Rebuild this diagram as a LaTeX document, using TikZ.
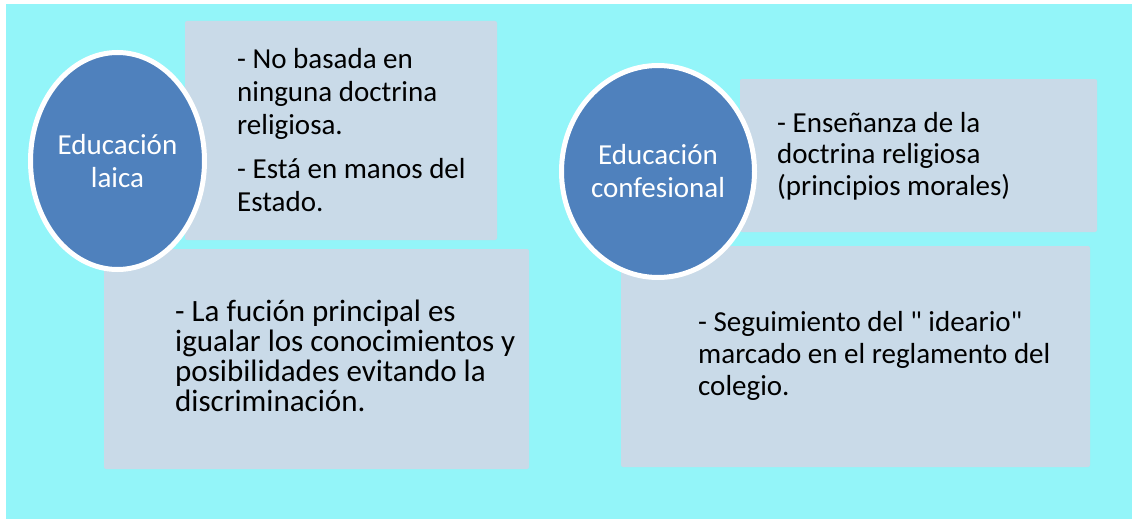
\documentclass[tikz,border=0pt]{standalone}
\usepackage{fontspec}
\setmainfont{Carlito}
\newfontfamily\plainquote{Carlito}
\newcommand{\dq}{{\plainquote\symbol{34}}}
\usetikzlibrary{shapes.geometric}

\definecolor{bgcyan}{RGB}{147,245,249}
\definecolor{boxgrey}{RGB}{201,218,232}
\definecolor{ellblue}{RGB}{79,129,189}

\begin{document}
\begin{tikzpicture}[x=1pt,y=-1pt,
    infobox/.style={fill=boxgrey, rounded corners=2pt, inner sep=0pt},
    bubble/.style={ellipse, fill=ellblue, draw=white, line width=5pt, inner sep=0pt,
        text=white, align=center, font=\fontsize{29}{33}\selectfont},
    itemtext/.style={anchor=north west, align=left, inner sep=0pt}]
    % Frame and background
    \useasboundingbox (0,0) rectangle (1132,519);
    \fill[white] (0,0) rectangle (1132,519);
    \fill[bgcyan] (6,4) rectangle (1132,519);

    % Boxes on the left
    \node[infobox, minimum width=312pt, minimum height=219pt] (laicaTop) at (341,130.5) {};
    \node[infobox, minimum width=425pt, minimum height=220pt] (laicaBot) at (316.5,359) {};

    % Boxes on the right
    \node[infobox, minimum width=357pt, minimum height=153pt] (confTop) at (918.5,155.5) {};
    \node[infobox, minimum width=469pt, minimum height=221pt] (confBot) at (855.5,356.5) {};

    % Texts in the boxes
    \node[itemtext, font=\fontsize{29}{33}\selectfont] (laicaTopTxt) at (237,48)
        {- No basada en\\ ninguna doctrina\\ religiosa.\\[11pt] - Está en manos del\\ Estado.};
    \node[itemtext, font=\fontsize{31}{30}\selectfont] (laicaBotTxt) at (175,300)
        {- La fución principal es\\ igualar los conocimientos y\\ posibilidades evitando la\\ discriminación.};
    \node[itemtext, font=\fontsize{29}{31.5}\selectfont] (confTopTxt) at (777,112)
        {- Enseñanza de la\\ doctrina religiosa\\ (principios morales)};
    \node[itemtext, font=\fontsize{29}{32}\selectfont] (confBotTxt) at (698,311)
        {- Seguimiento del \dq{} ideario\dq\\ marcado en el reglamento del\\ colegio.};

    % Ellipses with the titles
    \node[bubble, minimum width=174pt, minimum height=217pt] (laica) at (117.5,161) {Educación\\ laica};
    \node[bubble, minimum width=193pt, minimum height=212pt] (confesional) at (658,171.5) {Educación\\ confesional};

\end{tikzpicture}
\end{document}
